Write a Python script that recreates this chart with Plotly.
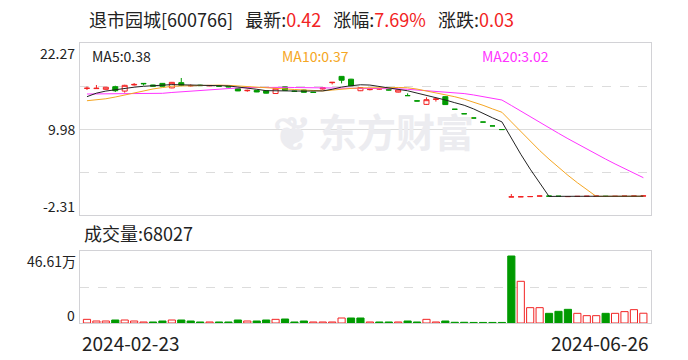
import plotly.graph_objects as go

# ---------------- data ----------------
dates = ["2024-02-23","2024-02-26","2024-02-27","2024-02-28","2024-02-29",
         "2024-03-01","2024-03-04","2024-03-05","2024-03-06","2024-03-07","2024-03-08",
         "2024-03-11","2024-03-12","2024-03-13","2024-03-14","2024-03-15",
         "2024-03-18","2024-03-19","2024-03-20","2024-03-21","2024-03-22",
         "2024-03-25","2024-03-26","2024-03-27","2024-03-28","2024-03-29",
         "2024-04-01","2024-04-02","2024-04-03",
         "2024-04-08","2024-04-09","2024-04-10","2024-04-11","2024-04-12",
         "2024-04-15","2024-04-16","2024-04-17","2024-04-18","2024-04-19",
         "2024-04-22","2024-04-23","2024-04-24","2024-04-25","2024-04-26",
         "2024-04-29",
         "2024-06-05","2024-06-06","2024-06-07","2024-06-11","2024-06-12",
         "2024-06-13","2024-06-14","2024-06-17","2024-06-18","2024-06-19",
         "2024-06-20","2024-06-21","2024-06-24","2024-06-25","2024-06-26"]

opens = [15.80,15.75,15.65,16.03,15.40,16.27,16.50,16.27,16.50,15.85,
         16.60,16.15,16.25,16.15,16.15,16.10,15.75,15.45,15.50,15.45,
         15.05,16.00,15.40,15.55,15.25,15.70,16.60,17.50,17.10,15.45,
         15.60,15.70,15.60,15.25,14.75,14.00,13.50,14.20,14.60,12.80,
         12.16,11.55,10.97,10.42,9.90,
         0.27,0.29,0.31,0.39,0.40,0.38,0.32,0.34,0.36,0.38,0.36,0.35,0.37,0.38,0.40]
highs = [16.05,16.27,15.98,16.17,16.30,16.55,16.53,16.30,16.55,16.70,
         17.27,16.35,16.30,16.25,16.20,16.15,15.80,15.60,15.55,15.50,
         15.85,16.05,15.45,15.60,15.30,15.90,16.70,17.55,17.15,15.95,
         15.80,15.80,15.65,15.60,15.08,14.05,14.51,14.45,14.65,12.80,
         12.16,11.55,10.97,10.42,9.90,
         0.69,0.31,0.34,0.42,0.41,0.39,0.34,0.36,0.38,0.40,0.37,0.37,0.39,0.40,0.43]
lows = [15.55,15.75,15.60,15.27,15.17,16.20,16.20,16.05,16.05,15.80,
        16.10,16.05,16.15,16.10,16.05,15.95,15.40,15.30,15.25,15.05,
        15.00,15.45,15.30,15.20,15.15,15.60,16.35,16.50,16.15,15.40,
        15.50,15.60,15.50,15.20,14.70,13.95,13.41,13.90,13.45,12.80,
        12.16,11.55,10.97,10.42,9.90,
        0.27,0.28,0.30,0.37,0.36,0.35,0.31,0.33,0.35,0.37,0.34,0.34,0.36,0.37,0.39]
closes = [15.80,15.80,15.95,15.45,16.22,16.35,16.45,16.10,16.08,16.65,
          16.22,16.20,16.18,16.20,16.10,16.00,15.42,15.50,15.27,15.10,
          15.80,15.50,15.35,15.22,15.20,15.85,16.65,16.95,16.15,15.90,
          15.65,15.72,15.55,15.55,14.75,13.98,14.17,14.27,13.47,12.80,
          12.16,11.55,10.97,10.42,9.90,
          0.28,0.30,0.33,0.41,0.38,0.36,0.33,0.35,0.37,0.39,0.35,0.36,0.38,0.39,0.42]

# volume in 万 shares
volumes_wan = [2.55,1.39,1.39,2.09,2.09,1.39,0.70,0.70,1.39,2.09,
               2.09,1.39,0.70,0.70,0.70,0.70,2.09,1.39,1.39,2.09,
               2.55,2.78,0.70,1.39,0.70,0.70,0.70,3.48,3.48,3.48,
               0.70,0.70,0.70,0.70,1.39,0.70,2.55,0.70,1.39,0.50,
               0.50,0.40,0.40,0.40,0.40,
               46.61,29.00,10.67,10.67,6.73,8.12,9.51,6.73,5.10,5.10,
               6.73,6.73,7.90,9.28,6.8027]
# 1 = up day (red hollow bar), 0 = down day (green bar)
vol_up = [1,1,1,0,1,1,1,0,0,1,0,0,0,1,0,0,0,1,0,0,
          1,0,0,0,1,1,1,1,0,0,1,0,0,1,0,0,1,1,0,0,
          0,0,0,0,0,0,1,1,1,0,0,0,1,1,1,0,1,1,1,1]

# moving-average values before enough in-chart history exists
ma5_head = [14.60, 15.10, 15.40, 15.60]
ma10_head = [14.02, 14.15, 14.30, 14.55, 14.85, 15.15, 15.45, 15.70, 15.90]
ma20_head = [14.98, 14.98, 15.00, 15.00, 15.02, 15.03, 15.05, 15.07, 15.08, 15.20,
             15.30, 15.42, 15.52, 15.62, 15.72, 15.80, 15.85, 15.90, 15.93]

price_ticks = [22.27, 9.98, -2.31]
vol_max_label = "46.61万"
title_name = "退市园城[600766]"
last_price, pct_chg, chg = "0.42", "7.69%", "0.03"
ma_labels = ["MA5:0.38", "MA10:0.37", "MA20:3.02"]
vol_label = "成交量:68027"

# ---------------- derived ----------------
def ma(vals, n, head):
    out = []
    for i in range(len(vals)):
        if i < n - 1:
            out.append(head[i])
        else:
            out.append(sum(vals[i - n + 1:i + 1]) / n)
    return out

ma5 = ma(closes, 5, ma5_head)
ma10 = ma(closes, 10, ma10_head)
ma20 = ma(closes, 20, ma20_head)
volumes = [v * 10000 for v in volumes_wan]

RED = "#f22323"
GREEN = "#009a00"
C_MA5 = "#222222"
C_MA10 = "#f5a623"
C_MA20 = "#ff33ff"
GRID = "#dcdcdc"
BORDER = "#d2d2d6"
FONT = "Noto Sans CJK SC, Liberation Sans, sans-serif"

fig = go.Figure()

fig.add_trace(go.Candlestick(
    x=dates, open=opens, high=highs, low=lows, close=closes,
    increasing=dict(line=dict(color=RED, width=1), fillcolor="#ffffff"),
    decreasing=dict(line=dict(color=GREEN, width=1), fillcolor=GREEN),
    whiskerwidth=0, xaxis="x", yaxis="y", showlegend=False, hoverinfo="skip"))

for vals, col in [(ma20, C_MA20), (ma10, C_MA10), (ma5, C_MA5)]:
    fig.add_trace(go.Scatter(x=dates, y=vals, mode="lines",
                             line=dict(color=col, width=1),
                             xaxis="x", yaxis="y", showlegend=False, hoverinfo="skip"))

fig.add_trace(go.Bar(
    x=dates, y=volumes, width=0.76,
    marker=dict(color=["#ffffff" if u else GREEN for u in vol_up],
                line=dict(color=[RED if u else GREEN for u in vol_up], width=1)),
    xaxis="x2", yaxis="y2", showlegend=False, hoverinfo="skip"))

# ---------------- layout ----------------
W, H = 688, 360
L, R, T, B = 80, 37, 43, 37
PH = H - T - B
def py(y):  # pixel y -> paper
    return (H - B - y) / PH
def px(x):
    return (x - L) / (W - L - R)

main_dom = [py(215), 1.0]
vol_dom = [0.0, py(251)]
vol_axis_max = 46.61 * 10000 * 72 / 67

xcommon = dict(type="category", range=[-0.74, 59.81], showticklabels=False,
               showgrid=False, zeroline=False, showline=True, mirror=True,
               linecolor=BORDER, linewidth=1, ticks="", fixedrange=True)

fig.update_layout(
    width=W, height=H, margin=dict(l=L, r=R, t=T, b=B),
    paper_bgcolor="#ffffff", plot_bgcolor="#ffffff",
    boxgap=0.24, bargap=0.2,
    font=dict(family=FONT, size=14, color="#222222"),
    xaxis=dict(**xcommon, anchor="y", domain=[0, 1], rangeslider=dict(visible=False)),
    xaxis2=dict(**xcommon, anchor="y2", domain=[0, 1], matches="x"),
    yaxis=dict(domain=main_dom, range=[price_ticks[2], price_ticks[0]],
               tickvals=[price_ticks[1]], showticklabels=False, ticks="",
               showgrid=True, gridcolor=GRID, gridwidth=1, zeroline=False,
               showline=True, mirror=True, linecolor=BORDER,
               minor=dict(tickvals=[(price_ticks[0] + price_ticks[1]) / 2,
                                    (price_ticks[1] + price_ticks[2]) / 2],
                          showgrid=True, gridcolor=GRID, griddash="dash", ticks=""),
               fixedrange=True),
    yaxis2=dict(domain=vol_dom, range=[0, vol_axis_max], tickvals=[],
                showticklabels=False, ticks="", showgrid=False, zeroline=False,
                showline=True, mirror=True, linecolor=BORDER,
                minor=dict(tickvals=[vol_axis_max / 2], showgrid=True,
                           gridcolor=GRID, griddash="dash", ticks=""),
                fixedrange=True),
)

ann = []
def A(text, x, y, xanchor="left", size=14, color="#222222", **kw):
    ann.append(dict(text=text, x=x, y=y, xref="paper", yref="paper",
                    xanchor=xanchor, yanchor="middle", showarrow=False,
                    font=dict(size=size, color=color, family=FONT), **kw))

# watermark
A("<b>东方财富</b>", px(396), py(130), xanchor="center", size=39, color="#ececf0")
A("<b>❦</b>", px(292), py(130), xanchor="center", size=46, color="#ececf0")

title = (f"{title_name}   最新:<span style='color:{RED}'>{last_price}</span>   "
         f"涨幅:<span style='color:{RED}'>{pct_chg}</span>   "
         f"涨跌:<span style='color:{RED}'>{chg}</span>")
A(title, px(87), py(19), size=18)

A(ma_labels[0], px(90), py(56), color=C_MA5)
A(ma_labels[1], px(280), py(56), color=C_MA10)
A(ma_labels[2], px(480), py(56), color=C_MA20)

A(f"{price_ticks[0]:.2f}", px(77), py(53), xanchor="right")
A(f"{price_ticks[1]:.2f}", px(77), py(129), xanchor="right")
A(f"{price_ticks[2]:.2f}", px(77), py(206), xanchor="right")

A(vol_label, px(82), py(233), size=18)
A(vol_max_label, px(78), py(261), xanchor="right")
A("0", px(77), py(315), xanchor="right")

A(dates[0], px(80), py(342), size=19)
A(dates[-1], px(651), py(342), xanchor="right", size=19)

fig.update_layout(annotations=ann)

fig.write_html("out.html")
